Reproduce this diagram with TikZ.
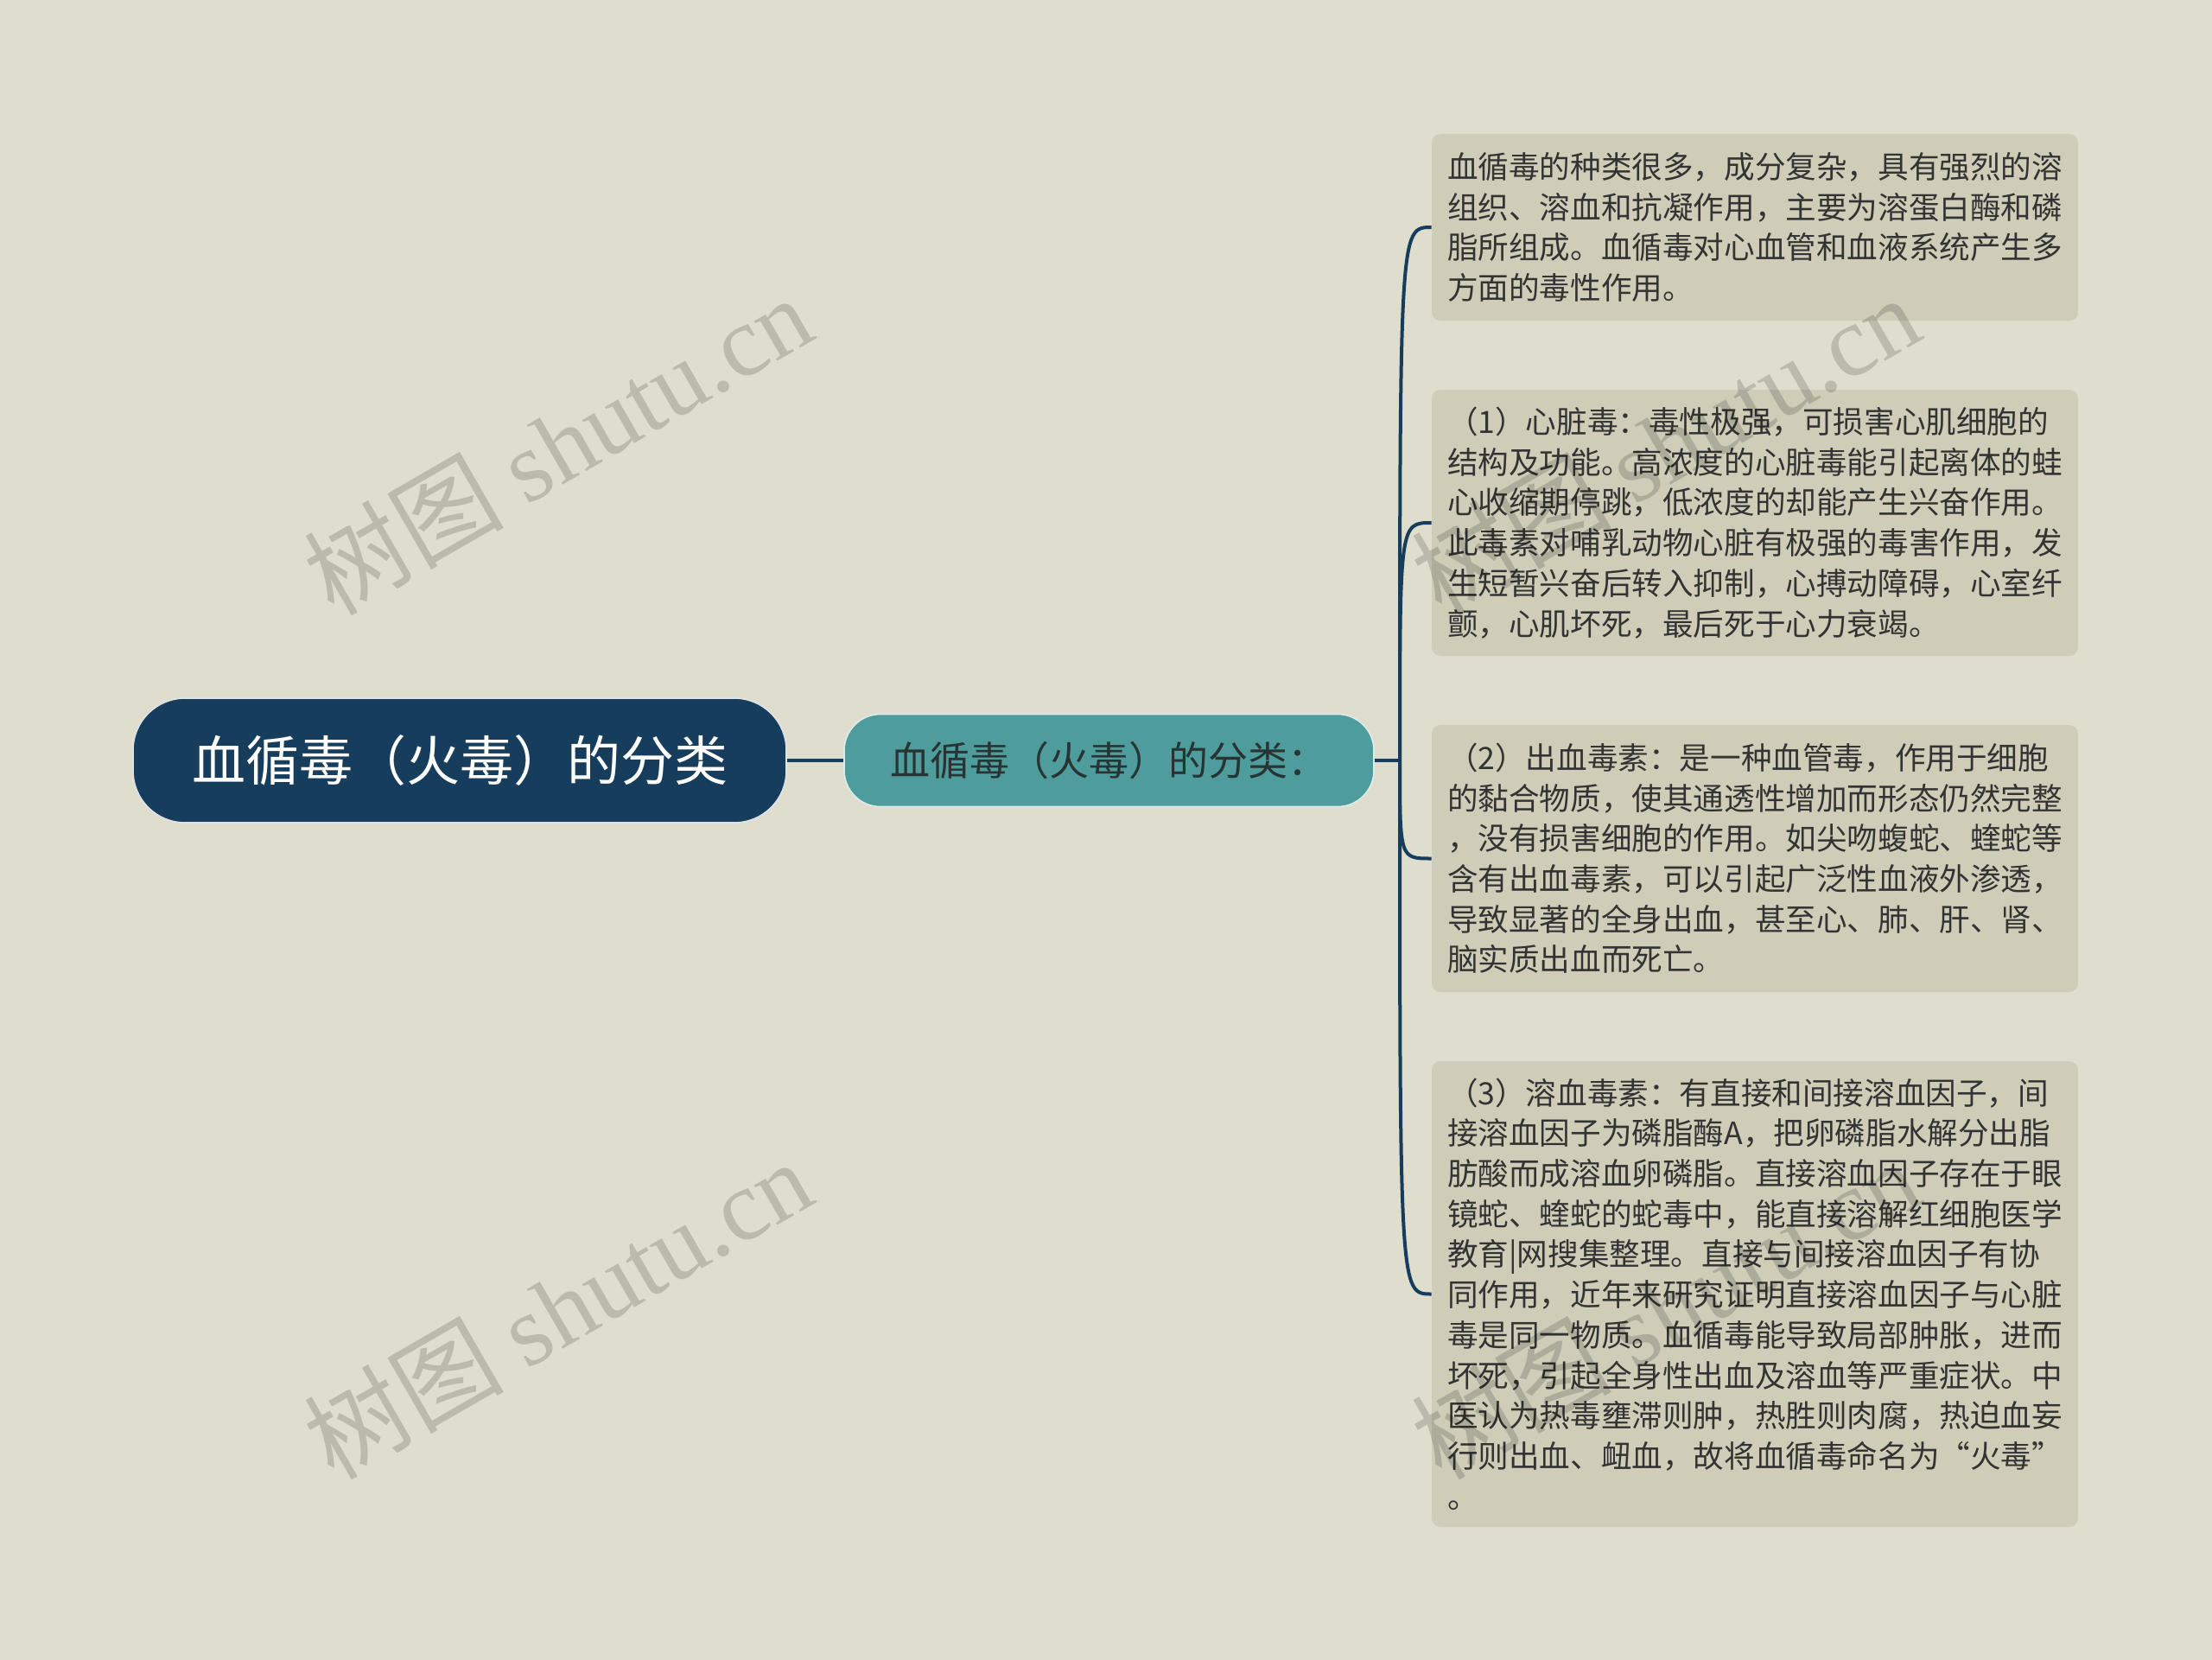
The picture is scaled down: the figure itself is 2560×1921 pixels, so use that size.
\documentclass[tikz,border=0pt]{standalone}
\usepackage{fontspec}
\setmainfont{Noto Sans CJK SC}
\newfontfamily\wmcjk{Noto Sans CJK SC}
\newfontfamily\wmlat{Liberation Serif}
\definecolor{bgc}{RGB}{223,222,206}
\definecolor{boxfill}{RGB}{207,205,184}
\definecolor{rootfill}{RGB}{23,61,92}
\definecolor{subfill}{RGB}{78,156,155}
\definecolor{linec}{RGB}{23,61,92}
\definecolor{txtc}{RGB}{51,51,51}
\definecolor{subtxt}{RGB}{40,52,52}
\begin{document}
\begin{tikzpicture}[x=0.5pt,y=-0.5pt,
  rootbox/.style={shape=rectangle, rounded corners=30pt, fill=rootfill, draw=white!85!rootfill, line width=0.8pt,
    minimum width=378pt, minimum height=72pt, inner sep=0pt, text=white,
    font=\fontsize{31pt}{36pt}\selectfont},
  subbox/.style={shape=rectangle, rounded corners=21pt, fill=subfill, draw=white!80!subfill, line width=0.8pt,
    minimum width=306.5pt, minimum height=53.5pt, inner sep=0pt, text=subtxt,
    font=\fontsize{23pt}{27pt}\selectfont},
  txtbox/.style={shape=rectangle, rounded corners=5pt, fill=boxfill, text=txtc,
    text width=356pt, inner xsep=9pt, inner ysep=0pt, align=left,
    font=\fontsize{17.8pt}{23.35pt}\selectfont},
  conn/.style={draw=linec, line width=2pt},
  wm/.style={text=black, opacity=0.16, rotate=30, inner sep=0pt,
    font=\fontsize{58pt}{60pt}\selectfont}
]
\fill[bgc] (0,0) rectangle (2560,1921);
\useasboundingbox (0,0) rectangle (2560,1921);

\node[rootbox] (root) at (532,880) {血循毒（火毒）的分类};
\node[subbox] (sub) at (1283.5,880) {血循毒（火毒）的分类：};

\node[txtbox, minimum height=108pt] (b1) at (2031,263) {血循毒的种类很多，成分复杂，具有强烈的溶\\组织、溶血和抗凝作用，主要为溶蛋白酶和磷\\脂所组成。血循毒对心血管和血液系统产生多\\方面的毒性作用。};

\node[txtbox, minimum height=154pt] (b2) at (2031,605) {（1）心脏毒：毒性极强，可损害心肌细胞的\\结构及功能。高浓度的心脏毒能引起离体的蛙\\心收缩期停跳，低浓度的却能产生兴奋作用。\\此毒素对哺乳动物心脏有极强的毒害作用，发\\生短暂兴奋后转入抑制，心搏动障碍，心室纤\\颤，心肌坏死，最后死于心力衰竭。};

\node[txtbox, minimum height=154.5pt] (b3) at (2031,993.5) {（2）出血毒素：是一种血管毒，作用于细胞\\的黏合物质，使其通透性增加而形态仍然完整\\，没有损害细胞的作用。如尖吻蝮蛇、蝰蛇等\\含有出血毒素，可以引起广泛性血液外渗透，\\导致显著的全身出血，甚至心、肺、肝、肾、\\脑实质出血而死亡。};

\node[txtbox, minimum height=269.5pt] (b4) at (2031,1497.5) {（3）溶血毒素：有直接和间接溶血因子，间\\接溶血因子为磷脂酶A，把卵磷脂水解分出脂\\肪酸而成溶血卵磷脂。直接溶血因子存在于眼\\镜蛇、蝰蛇的蛇毒中，能直接溶解红细胞医学\\教育|网搜集整理。直接与间接溶血因子有协\\同作用，近年来研究证明直接溶血因子与心脏\\毒是同一物质。血循毒能导致局部肿胀，进而\\坏死，引起全身性出血及溶血等严重症状。中\\医认为热毒壅滞则肿，热胜则肉腐，热迫血妄\\行则出血、衄血，故将血循毒命名为“火毒”\\。};

\coordinate (j) at (1620,880);
\draw[conn] (root.east) -- (sub.west);
\draw[conn] (sub.east) -- (j);
\draw[conn] (j) .. controls (j|-b1.west) .. (b1.west);
\draw[conn] (j) .. controls (j|-b2.west) .. (b2.west);
\draw[conn] (j) .. controls (j|-b3.west) .. (b3.west);
\draw[conn] (j) .. controls (j|-b4.west) .. (b4.west);

\node[wm] (wm1) at (645,514) {{\wmcjk 树图} {\wmlat shutu.cn}};
\node[wm] (wm2) at (645,1514) {{\wmcjk 树图} {\wmlat shutu.cn}};
\node[wm] (wm3) at (1927,514) {{\wmcjk 树图} {\wmlat shutu.cn}};
\node[wm] (wm4) at (1927,1514) {{\wmcjk 树图} {\wmlat shutu.cn}};
\end{tikzpicture}
\end{document}
